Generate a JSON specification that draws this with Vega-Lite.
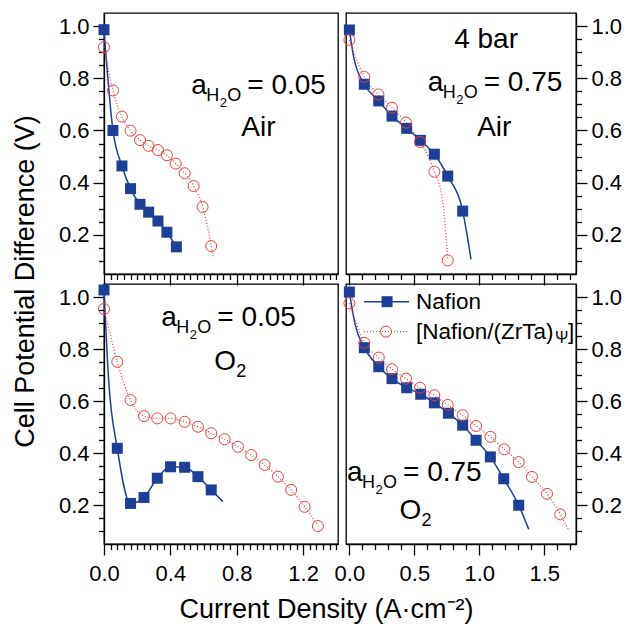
{
  "$schema": "https://vega.github.io/schema/vega-lite/v6.json",
  "background": "white",
  "padding": {"left": 10, "top": 12, "right": 0, "bottom": 0},
  "autosize": {"type": "pad"},
  "datasets": {
    "curves": [
      {"p":"TL","s":"N","x":0,"y":0.986,"m":1},
      {"p":"TL","s":"N","x":0.054,"y":0.60,"m":1},
      {"p":"TL","s":"N","x":0.108,"y":0.464,"m":1},
      {"p":"TL","s":"N","x":0.16,"y":0.377,"m":1},
      {"p":"TL","s":"N","x":0.217,"y":0.317,"m":1},
      {"p":"TL","s":"N","x":0.269,"y":0.287,"m":1},
      {"p":"TL","s":"N","x":0.325,"y":0.253,"m":1},
      {"p":"TL","s":"N","x":0.379,"y":0.21,"m":1},
      {"p":"TL","s":"N","x":0.436,"y":0.154,"m":1},
      {"p":"TL","s":"C","x":0,"y":0.919,"m":1},
      {"p":"TL","s":"C","x":0.054,"y":0.753,"m":1},
      {"p":"TL","s":"C","x":0.108,"y":0.653,"m":1},
      {"p":"TL","s":"C","x":0.16,"y":0.599,"m":1},
      {"p":"TL","s":"C","x":0.217,"y":0.563,"m":1},
      {"p":"TL","s":"C","x":0.269,"y":0.541,"m":1},
      {"p":"TL","s":"C","x":0.325,"y":0.525,"m":1},
      {"p":"TL","s":"C","x":0.379,"y":0.505,"m":1},
      {"p":"TL","s":"C","x":0.432,"y":0.473,"m":1},
      {"p":"TL","s":"C","x":0.486,"y":0.436,"m":1},
      {"p":"TL","s":"C","x":0.54,"y":0.387,"m":1},
      {"p":"TL","s":"C","x":0.594,"y":0.307,"m":1},
      {"p":"TL","s":"C","x":0.646,"y":0.157,"m":1},
      {"p":"TL","s":"C","x":0.656,"y":0.118,"m":0},

      {"p":"TR","s":"N","x":0,"y":0.985,"m":1},
      {"p":"TR","s":"N","x":0.034,"y":0.879,"m":0},
      {"p":"TR","s":"N","x":0.115,"y":0.777,"m":1},
      {"p":"TR","s":"N","x":0.226,"y":0.713,"m":1},
      {"p":"TR","s":"N","x":0.328,"y":0.655,"m":1},
      {"p":"TR","s":"N","x":0.441,"y":0.608,"m":1},
      {"p":"TR","s":"N","x":0.546,"y":0.562,"m":1},
      {"p":"TR","s":"N","x":0.654,"y":0.509,"m":1},
      {"p":"TR","s":"N","x":0.757,"y":0.425,"m":1},
      {"p":"TR","s":"N","x":0.872,"y":0.291,"m":1},
      {"p":"TR","s":"N","x":0.936,"y":0.106,"m":0},
      {"p":"TR","s":"C","x":0,"y":0.947,"m":1},
      {"p":"TR","s":"C","x":0.115,"y":0.805,"m":1},
      {"p":"TR","s":"C","x":0.223,"y":0.738,"m":1},
      {"p":"TR","s":"C","x":0.328,"y":0.687,"m":1},
      {"p":"TR","s":"C","x":0.436,"y":0.630,"m":1},
      {"p":"TR","s":"C","x":0.544,"y":0.556,"m":1},
      {"p":"TR","s":"C","x":0.654,"y":0.442,"m":1},
      {"p":"TR","s":"C","x":0.718,"y":0.330,"m":0},
      {"p":"TR","s":"C","x":0.746,"y":0.176,"m":0},
      {"p":"TR","s":"C","x":0.757,"y":0.102,"m":1},

      {"p":"BL","s":"N","x":0,"y":1.027,"m":1},
      {"p":"BL","s":"N","x":0.028,"y":0.681,"m":0},
      {"p":"BL","s":"N","x":0.08,"y":0.418,"m":1},
      {"p":"BL","s":"N","x":0.16,"y":0.206,"m":1},
      {"p":"BL","s":"N","x":0.241,"y":0.229,"m":1},
      {"p":"BL","s":"N","x":0.321,"y":0.303,"m":1},
      {"p":"BL","s":"N","x":0.401,"y":0.347,"m":1},
      {"p":"BL","s":"N","x":0.486,"y":0.345,"m":1},
      {"p":"BL","s":"N","x":0.566,"y":0.309,"m":1},
      {"p":"BL","s":"N","x":0.646,"y":0.258,"m":1},
      {"p":"BL","s":"N","x":0.717,"y":0.213,"m":0},
      {"p":"BL","s":"C","x":0,"y":0.954,"m":1},
      {"p":"BL","s":"C","x":0.08,"y":0.751,"m":1},
      {"p":"BL","s":"C","x":0.16,"y":0.604,"m":1},
      {"p":"BL","s":"C","x":0.241,"y":0.542,"m":1},
      {"p":"BL","s":"C","x":0.321,"y":0.533,"m":1},
      {"p":"BL","s":"C","x":0.401,"y":0.533,"m":1},
      {"p":"BL","s":"C","x":0.486,"y":0.520,"m":1},
      {"p":"BL","s":"C","x":0.566,"y":0.501,"m":1},
      {"p":"BL","s":"C","x":0.646,"y":0.476,"m":1},
      {"p":"BL","s":"C","x":0.727,"y":0.453,"m":1},
      {"p":"BL","s":"C","x":0.807,"y":0.424,"m":1},
      {"p":"BL","s":"C","x":0.887,"y":0.392,"m":1},
      {"p":"BL","s":"C","x":0.968,"y":0.354,"m":1},
      {"p":"BL","s":"C","x":1.048,"y":0.309,"m":1},
      {"p":"BL","s":"C","x":1.128,"y":0.258,"m":1},
      {"p":"BL","s":"C","x":1.209,"y":0.193,"m":1},
      {"p":"BL","s":"C","x":1.289,"y":0.119,"m":1},

      {"p":"BR","s":"N","x":0,"y":1.019,"m":1},
      {"p":"BR","s":"N","x":0.044,"y":0.895,"m":0},
      {"p":"BR","s":"N","x":0.115,"y":0.805,"m":1},
      {"p":"BR","s":"N","x":0.226,"y":0.732,"m":1},
      {"p":"BR","s":"N","x":0.328,"y":0.686,"m":1},
      {"p":"BR","s":"N","x":0.441,"y":0.651,"m":1},
      {"p":"BR","s":"N","x":0.549,"y":0.626,"m":1},
      {"p":"BR","s":"N","x":0.654,"y":0.593,"m":1},
      {"p":"BR","s":"N","x":0.762,"y":0.553,"m":1},
      {"p":"BR","s":"N","x":0.872,"y":0.507,"m":1},
      {"p":"BR","s":"N","x":0.975,"y":0.449,"m":1},
      {"p":"BR","s":"N","x":1.085,"y":0.385,"m":1},
      {"p":"BR","s":"N","x":1.188,"y":0.301,"m":1},
      {"p":"BR","s":"N","x":1.303,"y":0.199,"m":1},
      {"p":"BR","s":"N","x":1.38,"y":0.107,"m":0},
      {"p":"BR","s":"C","x":0,"y":0.976,"m":1},
      {"p":"BR","s":"C","x":0.115,"y":0.824,"m":1},
      {"p":"BR","s":"C","x":0.226,"y":0.767,"m":1},
      {"p":"BR","s":"C","x":0.328,"y":0.722,"m":1},
      {"p":"BR","s":"C","x":0.436,"y":0.686,"m":1},
      {"p":"BR","s":"C","x":0.544,"y":0.651,"m":1},
      {"p":"BR","s":"C","x":0.654,"y":0.622,"m":1},
      {"p":"BR","s":"C","x":0.757,"y":0.585,"m":1},
      {"p":"BR","s":"C","x":0.872,"y":0.545,"m":1},
      {"p":"BR","s":"C","x":0.975,"y":0.504,"m":1},
      {"p":"BR","s":"C","x":1.085,"y":0.462,"m":1},
      {"p":"BR","s":"C","x":1.192,"y":0.414,"m":1},
      {"p":"BR","s":"C","x":1.303,"y":0.365,"m":1},
      {"p":"BR","s":"C","x":1.405,"y":0.308,"m":1},
      {"p":"BR","s":"C","x":1.521,"y":0.243,"m":1},
      {"p":"BR","s":"C","x":1.623,"y":0.164,"m":1},
      {"p":"BR","s":"C","x":1.692,"y":0.10,"m":0}
    ]
  },
  "concat": [
    {
      "width": 234, "height": 261,
      "resolve": {"axis": {"x": "independent", "y": "independent"}},
      "layer": [
        {
          "encoding": {
            "x": {"field":"x","type":"quantitative","scale":{"domain":[0,1.41],"nice":false,"zero":false},
              "axis":{"values":[0,0.04,0.08,0.12,0.16,0.2,0.24,0.28,0.32,0.36,0.4,0.44,0.48,0.52,0.56,0.6,0.64,0.68,0.72,0.76,0.8,0.84,0.88,0.92,0.96,1.0,1.04,1.08,1.12,1.16,1.2,1.24,1.28,1.32,1.36,1.4],
                "labels":false,"title":null,
                "tickSize":{"condition":{"test":"abs(datum.value/0.4-round(datum.value/0.4))<0.001","value":11},"value":5.5}}},
            "y": {"field":"y","type":"quantitative","scale":{"domain":[0.05,1.05],"nice":false,"zero":false},
              "axis":{"orient":"left","values":[0.1,0.15,0.2,0.25,0.3,0.35,0.4,0.45,0.5,0.55,0.6,0.65,0.7,0.75,0.8,0.85,0.9,0.95,1.0],
                "title":null,"labelPadding":4,
                "labelExpr":"abs(datum.value*5-round(datum.value*5))<0.001 ? format(datum.value,'.1f') : ''",
                "tickSize":{"condition":{"test":"abs(datum.value*5-round(datum.value*5))<0.001","value":11},"value":5.5}}}
          },
          "layer": [
            {"data":{"name":"curves"},"transform":[{"filter":"datum.p=='TL' && datum.s=='N'"}],
             "mark":{"type":"line","color":"#1d3f98","strokeWidth":1.5,"interpolate":"monotone"}},
            {"data":{"name":"curves"},"transform":[{"filter":"datum.p=='TL' && datum.s=='C'"}],
             "mark":{"type":"line","color":"#e8403f","strokeWidth":1.3,"strokeDash":[1,2],"interpolate":"monotone"}},
            {"data":{"name":"curves"},"transform":[{"filter":"datum.p=='TL' && datum.s=='N' && datum.m==1"}],
             "mark":{"type":"point","shape":"square","filled":true,"color":"#1d3f98","size":121,"opacity":1}},
            {"data":{"name":"curves"},"transform":[{"filter":"datum.p=='TL' && datum.s=='C' && datum.m==1"}],
             "mark":{"type":"point","shape":"circle","filled":false,"color":"#e8403f","size":121,"strokeWidth":1,"opacity":1}}
          ]
        },
        {"data":{"values":[{}]},"mark":{"type":"text","align":"left","baseline":"alphabetic","fontSize":28,"text":"a"},
         "encoding":{"x":{"datum":0.526,"type":"quantitative","axis":null},"y":{"datum":0.740,"type":"quantitative","axis":null}}},
        {"data":{"values":[{}]},"mark":{"type":"text","align":"left","baseline":"alphabetic","fontSize":18,"text":"H","dx":15,"dy":7},
         "encoding":{"x":{"datum":0.526,"type":"quantitative","axis":null},"y":{"datum":0.740,"type":"quantitative","axis":null}}},
        {"data":{"values":[{}]},"mark":{"type":"text","align":"left","baseline":"alphabetic","fontSize":13,"text":"2","dx":28.5,"dy":13},
         "encoding":{"x":{"datum":0.526,"type":"quantitative","axis":null},"y":{"datum":0.740,"type":"quantitative","axis":null}}},
        {"data":{"values":[{}]},"mark":{"type":"text","align":"left","baseline":"alphabetic","fontSize":18,"text":"O","dx":36,"dy":7},
         "encoding":{"x":{"datum":0.526,"type":"quantitative","axis":null},"y":{"datum":0.740,"type":"quantitative","axis":null}}},
        {"data":{"values":[{}]},"mark":{"type":"text","align":"left","baseline":"alphabetic","fontSize":28,"text":"= 0.05","dx":56},
         "encoding":{"x":{"datum":0.526,"type":"quantitative","axis":null},"y":{"datum":0.740,"type":"quantitative","axis":null}}},
        {"data":{"values":[{}]},"mark":{"type":"text","align":"center","baseline":"alphabetic","fontSize":28,"text":"Air"},
         "encoding":{"x":{"datum":0.93,"type":"quantitative","axis":null},"y":{"datum":0.579,"type":"quantitative","axis":null}}}
      ]
    },
    {
      "width": 230, "height": 261,
      "resolve": {"axis": {"x": "independent", "y": "independent"}},
      "layer": [
        {
          "encoding": {
            "x": {"field":"x","type":"quantitative","scale":{"domain":[-0.026,1.744],"nice":false,"zero":false},
              "axis":{"values":[0,0.1,0.2,0.3,0.4,0.5,0.6,0.7,0.8,0.9,1.0,1.1,1.2,1.3,1.4,1.5,1.6,1.7],
                "labels":false,"title":null,
                "tickSize":{"condition":{"test":"abs(datum.value*2-round(datum.value*2))<0.001","value":11},"value":5.5}}},
            "y": {"field":"y","type":"quantitative","scale":{"domain":[0.05,1.05],"nice":false,"zero":false},
              "axis":{"orient":"right","values":[0.1,0.15,0.2,0.25,0.3,0.35,0.4,0.45,0.5,0.55,0.6,0.65,0.7,0.75,0.8,0.85,0.9,0.95,1.0],
                "title":null,"labelPadding":4,
                "labelExpr":"abs(datum.value*5-round(datum.value*5))<0.001 ? format(datum.value,'.1f') : ''",
                "tickSize":{"condition":{"test":"abs(datum.value*5-round(datum.value*5))<0.001","value":11},"value":5.5}}}
          },
          "layer": [
            {"data":{"name":"curves"},"transform":[{"filter":"datum.p=='TR' && datum.s=='N'"}],
             "mark":{"type":"line","color":"#1d3f98","strokeWidth":1.5,"interpolate":"monotone"}},
            {"data":{"name":"curves"},"transform":[{"filter":"datum.p=='TR' && datum.s=='C'"}],
             "mark":{"type":"line","color":"#e8403f","strokeWidth":1.3,"strokeDash":[1,2],"interpolate":"monotone"}},
            {"data":{"name":"curves"},"transform":[{"filter":"datum.p=='TR' && datum.s=='N' && datum.m==1"}],
             "mark":{"type":"point","shape":"square","filled":true,"color":"#1d3f98","size":121,"opacity":1}},
            {"data":{"name":"curves"},"transform":[{"filter":"datum.p=='TR' && datum.s=='C' && datum.m==1"}],
             "mark":{"type":"point","shape":"circle","filled":false,"color":"#e8403f","size":121,"strokeWidth":1,"opacity":1}}
          ]
        },
        {"data":{"values":[{}]},"mark":{"type":"text","align":"center","baseline":"alphabetic","fontSize":28,"text":"4 bar"},
         "encoding":{"x":{"datum":1.052,"type":"quantitative","axis":null},"y":{"datum":0.917,"type":"quantitative","axis":null}}},
        {"data":{"values":[{}]},"mark":{"type":"text","align":"left","baseline":"alphabetic","fontSize":28,"text":"a"},
         "encoding":{"x":{"datum":0.603,"type":"quantitative","axis":null},"y":{"datum":0.751,"type":"quantitative","axis":null}}},
        {"data":{"values":[{}]},"mark":{"type":"text","align":"left","baseline":"alphabetic","fontSize":18,"text":"H","dx":15,"dy":7},
         "encoding":{"x":{"datum":0.603,"type":"quantitative","axis":null},"y":{"datum":0.751,"type":"quantitative","axis":null}}},
        {"data":{"values":[{}]},"mark":{"type":"text","align":"left","baseline":"alphabetic","fontSize":13,"text":"2","dx":28.5,"dy":13},
         "encoding":{"x":{"datum":0.603,"type":"quantitative","axis":null},"y":{"datum":0.751,"type":"quantitative","axis":null}}},
        {"data":{"values":[{}]},"mark":{"type":"text","align":"left","baseline":"alphabetic","fontSize":18,"text":"O","dx":36,"dy":7},
         "encoding":{"x":{"datum":0.603,"type":"quantitative","axis":null},"y":{"datum":0.751,"type":"quantitative","axis":null}}},
        {"data":{"values":[{}]},"mark":{"type":"text","align":"left","baseline":"alphabetic","fontSize":28,"text":"= 0.75","dx":56},
         "encoding":{"x":{"datum":0.603,"type":"quantitative","axis":null},"y":{"datum":0.751,"type":"quantitative","axis":null}}},
        {"data":{"values":[{}]},"mark":{"type":"text","align":"center","baseline":"alphabetic","fontSize":28,"text":"Air"},
         "encoding":{"x":{"datum":1.115,"type":"quantitative","axis":null},"y":{"datum":0.579,"type":"quantitative","axis":null}}}
      ]
    },
    {
      "width": 234, "height": 260,
      "resolve": {"axis": {"x": "independent", "y": "independent"}},
      "layer": [
        {
          "encoding": {
            "x": {"field":"x","type":"quantitative","scale":{"domain":[0,1.41],"nice":false,"zero":false},
              "axis":{"values":[0,0.04,0.08,0.12,0.16,0.2,0.24,0.28,0.32,0.36,0.4,0.44,0.48,0.52,0.56,0.6,0.64,0.68,0.72,0.76,0.8,0.84,0.88,0.92,0.96,1.0,1.04,1.08,1.12,1.16,1.2,1.24,1.28,1.32,1.36,1.4],
                "labelPadding":8,
                "labelExpr":"abs(datum.value/0.4-round(datum.value/0.4))<0.001 ? format(datum.value,'.1f') : ''",
                "title":"Current Density (A·cm⁻²)","titleX":222,"titleY":73.4,"titleAlign":"center","titleBaseline":"alphabetic","titleAngle":0,
                "tickSize":{"condition":{"test":"abs(datum.value/0.4-round(datum.value/0.4))<0.001","value":11},"value":5.5}}},
            "y": {"field":"y","type":"quantitative","scale":{"domain":[0.05,1.05],"nice":false,"zero":false},
              "axis":{"orient":"left","values":[0.1,0.15,0.2,0.25,0.3,0.35,0.4,0.45,0.5,0.55,0.6,0.65,0.7,0.75,0.8,0.85,0.9,0.95,1.0],
                "labelPadding":4,
                "labelExpr":"abs(datum.value*5-round(datum.value*5))<0.001 ? format(datum.value,'.1f') : ''",
                "title":"Cell Potential Difference (V)","titleX":-71,"titleY":-3,"titleAlign":"center","titleBaseline":"alphabetic","titleAngle":270,
                "tickSize":{"condition":{"test":"abs(datum.value*5-round(datum.value*5))<0.001","value":11},"value":5.5}}}
          },
          "layer": [
            {"data":{"name":"curves"},"transform":[{"filter":"datum.p=='BL' && datum.s=='N'"}],
             "mark":{"type":"line","color":"#1d3f98","strokeWidth":1.5,"interpolate":"monotone"}},
            {"data":{"name":"curves"},"transform":[{"filter":"datum.p=='BL' && datum.s=='C'"}],
             "mark":{"type":"line","color":"#e8403f","strokeWidth":1.3,"strokeDash":[1,2],"interpolate":"monotone"}},
            {"data":{"name":"curves"},"transform":[{"filter":"datum.p=='BL' && datum.s=='N' && datum.m==1"}],
             "mark":{"type":"point","shape":"square","filled":true,"color":"#1d3f98","size":121,"opacity":1}},
            {"data":{"name":"curves"},"transform":[{"filter":"datum.p=='BL' && datum.s=='C' && datum.m==1"}],
             "mark":{"type":"point","shape":"circle","filled":false,"color":"#e8403f","size":121,"strokeWidth":1,"opacity":1}}
          ]
        },
        {"data":{"values":[{}]},"mark":{"type":"text","align":"left","baseline":"alphabetic","fontSize":28,"text":"a"},
         "encoding":{"x":{"datum":0.345,"type":"quantitative","axis":null},"y":{"datum":0.888,"type":"quantitative","axis":null}}},
        {"data":{"values":[{}]},"mark":{"type":"text","align":"left","baseline":"alphabetic","fontSize":18,"text":"H","dx":15,"dy":7},
         "encoding":{"x":{"datum":0.345,"type":"quantitative","axis":null},"y":{"datum":0.888,"type":"quantitative","axis":null}}},
        {"data":{"values":[{}]},"mark":{"type":"text","align":"left","baseline":"alphabetic","fontSize":13,"text":"2","dx":28.5,"dy":13},
         "encoding":{"x":{"datum":0.345,"type":"quantitative","axis":null},"y":{"datum":0.888,"type":"quantitative","axis":null}}},
        {"data":{"values":[{}]},"mark":{"type":"text","align":"left","baseline":"alphabetic","fontSize":18,"text":"O","dx":36,"dy":7},
         "encoding":{"x":{"datum":0.345,"type":"quantitative","axis":null},"y":{"datum":0.888,"type":"quantitative","axis":null}}},
        {"data":{"values":[{}]},"mark":{"type":"text","align":"left","baseline":"alphabetic","fontSize":28,"text":"= 0.05","dx":56},
         "encoding":{"x":{"datum":0.345,"type":"quantitative","axis":null},"y":{"datum":0.888,"type":"quantitative","axis":null}}},
        {"data":{"values":[{}]},"mark":{"type":"text","align":"left","baseline":"alphabetic","fontSize":28,"text":"O"},
         "encoding":{"x":{"datum":0.664,"type":"quantitative","axis":null},"y":{"datum":0.718,"type":"quantitative","axis":null}}},
        {"data":{"values":[{}]},"mark":{"type":"text","align":"left","baseline":"alphabetic","fontSize":18,"text":"2","dx":22,"dy":7},
         "encoding":{"x":{"datum":0.664,"type":"quantitative","axis":null},"y":{"datum":0.718,"type":"quantitative","axis":null}}}
      ]
    },
    {
      "width": 230, "height": 260,
      "resolve": {"axis": {"x": "independent", "y": "independent"}},
      "layer": [
        {
          "encoding": {
            "x": {"field":"x","type":"quantitative","scale":{"domain":[-0.026,1.744],"nice":false,"zero":false},
              "axis":{"values":[0,0.1,0.2,0.3,0.4,0.5,0.6,0.7,0.8,0.9,1.0,1.1,1.2,1.3,1.4,1.5,1.6,1.7],
                "labelPadding":8,"title":null,
                "labelExpr":"abs(datum.value*2-round(datum.value*2))<0.001 ? format(datum.value,'.1f') : ''",
                "tickSize":{"condition":{"test":"abs(datum.value*2-round(datum.value*2))<0.001","value":11},"value":5.5}}},
            "y": {"field":"y","type":"quantitative","scale":{"domain":[0.05,1.05],"nice":false,"zero":false},
              "axis":{"orient":"right","values":[0.1,0.15,0.2,0.25,0.3,0.35,0.4,0.45,0.5,0.55,0.6,0.65,0.7,0.75,0.8,0.85,0.9,0.95,1.0],
                "title":null,"labelPadding":4,
                "labelExpr":"abs(datum.value*5-round(datum.value*5))<0.001 ? format(datum.value,'.1f') : ''",
                "tickSize":{"condition":{"test":"abs(datum.value*5-round(datum.value*5))<0.001","value":11},"value":5.5}}}
          },
          "layer": [
            {"data":{"name":"curves"},"transform":[{"filter":"datum.p=='BR' && datum.s=='N'"}],
             "mark":{"type":"line","color":"#1d3f98","strokeWidth":1.5,"interpolate":"monotone"}},
            {"data":{"name":"curves"},"transform":[{"filter":"datum.p=='BR' && datum.s=='C'"}],
             "mark":{"type":"line","color":"#e8403f","strokeWidth":1.3,"strokeDash":[1,2],"interpolate":"monotone"}},
            {"data":{"name":"curves"},"transform":[{"filter":"datum.p=='BR' && datum.s=='N' && datum.m==1"}],
             "mark":{"type":"point","shape":"square","filled":true,"color":"#1d3f98","size":121,"opacity":1}},
            {"data":{"name":"curves"},"transform":[{"filter":"datum.p=='BR' && datum.s=='C' && datum.m==1"}],
             "mark":{"type":"point","shape":"circle","filled":false,"color":"#e8403f","size":121,"strokeWidth":1,"opacity":1}}
          ]
        },
        {"data":{"values":[{}]},"mark":{"type":"text","align":"left","baseline":"alphabetic","fontSize":28,"text":"a"},
         "encoding":{"x":{"datum":-0.018,"type":"quantitative","axis":null},"y":{"datum":0.292,"type":"quantitative","axis":null}}},
        {"data":{"values":[{}]},"mark":{"type":"text","align":"left","baseline":"alphabetic","fontSize":18,"text":"H","dx":15,"dy":7},
         "encoding":{"x":{"datum":-0.018,"type":"quantitative","axis":null},"y":{"datum":0.292,"type":"quantitative","axis":null}}},
        {"data":{"values":[{}]},"mark":{"type":"text","align":"left","baseline":"alphabetic","fontSize":13,"text":"2","dx":28.5,"dy":13},
         "encoding":{"x":{"datum":-0.018,"type":"quantitative","axis":null},"y":{"datum":0.292,"type":"quantitative","axis":null}}},
        {"data":{"values":[{}]},"mark":{"type":"text","align":"left","baseline":"alphabetic","fontSize":18,"text":"O","dx":36,"dy":7},
         "encoding":{"x":{"datum":-0.018,"type":"quantitative","axis":null},"y":{"datum":0.292,"type":"quantitative","axis":null}}},
        {"data":{"values":[{}]},"mark":{"type":"text","align":"left","baseline":"alphabetic","fontSize":28,"text":"= 0.75","dx":56},
         "encoding":{"x":{"datum":-0.018,"type":"quantitative","axis":null},"y":{"datum":0.292,"type":"quantitative","axis":null}}},
        {"data":{"values":[{}]},"mark":{"type":"text","align":"left","baseline":"alphabetic","fontSize":28,"text":"O"},
         "encoding":{"x":{"datum":0.385,"type":"quantitative","axis":null},"y":{"datum":0.145,"type":"quantitative","axis":null}}},
        {"data":{"values":[{}]},"mark":{"type":"text","align":"left","baseline":"alphabetic","fontSize":18,"text":"2","dx":22,"dy":7},
         "encoding":{"x":{"datum":0.385,"type":"quantitative","axis":null},"y":{"datum":0.145,"type":"quantitative","axis":null}}},
        {"data":{"values":[{}]},"mark":{"type":"rule","color":"#1d3f98","strokeWidth":1.5},
         "encoding":{"x":{"datum":0.113,"type":"quantitative","axis":null},"x2":{"datum":0.459},"y":{"datum":0.982,"type":"quantitative","axis":null}}},
        {"data":{"values":[{}]},"mark":{"type":"point","shape":"square","filled":true,"color":"#1d3f98","size":121,"opacity":1},
         "encoding":{"x":{"datum":0.29,"type":"quantitative","axis":null},"y":{"datum":0.982,"type":"quantitative","axis":null}}},
        {"data":{"values":[{}]},"mark":{"type":"text","align":"left","baseline":"middle","fontSize":22.5,"text":"Nafion"},
         "encoding":{"x":{"datum":0.513,"type":"quantitative","axis":null},"y":{"datum":0.982,"type":"quantitative","axis":null}}},
        {"data":{"values":[{}]},"mark":{"type":"rule","color":"#e8403f","strokeWidth":1.3,"strokeDash":[1,2]},
         "encoding":{"x":{"datum":0.113,"type":"quantitative","axis":null},"x2":{"datum":0.459},"y":{"datum":0.867,"type":"quantitative","axis":null}}},
        {"data":{"values":[{}]},"mark":{"type":"point","shape":"circle","filled":false,"color":"#e8403f","size":121,"strokeWidth":1,"opacity":1},
         "encoding":{"x":{"datum":0.282,"type":"quantitative","axis":null},"y":{"datum":0.867,"type":"quantitative","axis":null}}},
        {"data":{"values":[{}]},"mark":{"type":"text","align":"left","baseline":"middle","fontSize":22.5,"text":"[Nafion/(ZrTa)"},
         "encoding":{"x":{"datum":0.513,"type":"quantitative","axis":null},"y":{"datum":0.867,"type":"quantitative","axis":null}}},
        {"data":{"values":[{}]},"mark":{"type":"text","align":"left","baseline":"middle","fontSize":16,"text":"Ψ","dx":139,"dy":6},
         "encoding":{"x":{"datum":0.513,"type":"quantitative","axis":null},"y":{"datum":0.867,"type":"quantitative","axis":null}}},
        {"data":{"values":[{}]},"mark":{"type":"text","align":"left","baseline":"middle","fontSize":22.5,"text":"]","dx":152},
         "encoding":{"x":{"datum":0.513,"type":"quantitative","axis":null},"y":{"datum":0.867,"type":"quantitative","axis":null}}}
      ]
    }
  ],
  "columns": 2,
  "spacing": {"row": 10, "column": 8},
  "bounds": "flush",
  "config": {
    "view": {"stroke": "black", "strokeWidth": 1.3},
    "axis": {
      "domainColor": "black", "domainWidth": 1.3, "tickColor": "black", "tickWidth": 1.3,
      "labelFont": "Liberation Sans", "labelFontSize": 22, "labelColor": "black",
      "titleFont": "Liberation Sans", "titleFontSize": 27, "titleFontWeight": "normal", "titleColor": "black",
      "grid": false, "labelOverlap": false, "labelFlush": false, "labelBound": false
    },
    "text": {"font": "Liberation Sans", "color": "black"}
  }
}
